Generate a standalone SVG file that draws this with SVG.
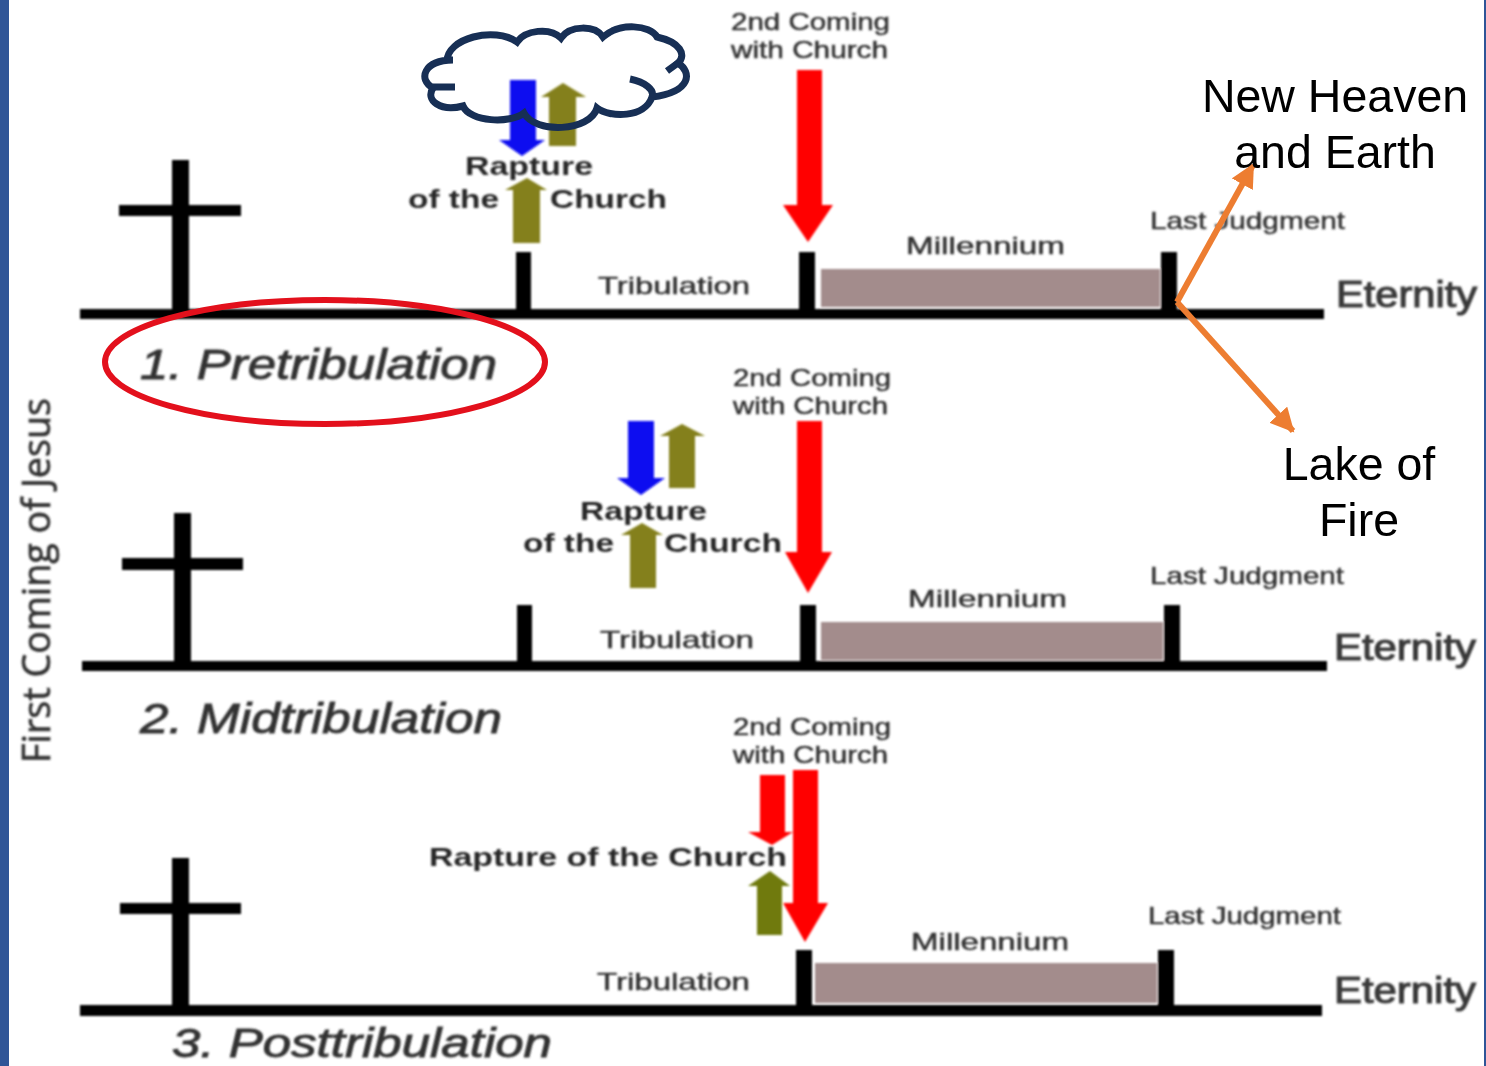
<svg xmlns="http://www.w3.org/2000/svg" width="1486" height="1066" viewBox="0 0 1486 1066">
<style>
.k{fill:#000}
.m{fill:#a38c8c}
.r{fill:#f00}
.b{fill:#0a0af0}
.o{fill:#84801a}
.t{font-family:"Liberation Sans",Arial,sans-serif;fill:#333}
.s{font-size:24px;font-weight:normal;stroke:#333;stroke-width:.5}
.h{font-size:26px;font-weight:bold;fill:#262626}
.e{font-size:36px;font-weight:normal;fill:#3a3a3a;stroke:#3a3a3a;stroke-width:1.1}
.p{font-size:42px;font-style:italic;stroke:#333;stroke-width:.9}
.n{font-family:"Liberation Sans",Arial,sans-serif;font-size:46.5px;fill:#000;text-anchor:middle}
.c{fill:none;stroke:#ed7d31;stroke-width:6}
</style>
<defs>
<filter id="soft" x="-5%" y="-5%" width="110%" height="110%"><feGaussianBlur stdDeviation="0.9"/></filter>
<marker id="ah" markerUnits="userSpaceOnUse" markerWidth="30" markerHeight="30" refX="22" refY="12" orient="auto"><path d="M0 0L24 12L0 24Z" fill="#ed7d31"/></marker>
</defs>
<rect width="1486" height="1066" fill="#fff"/>
<rect id="left-bar" x="0" y="0" width="9" height="1066" fill="#2f5597"/>
<rect id="right-bar" x="1484" y="0" width="2" height="1066" fill="#2f5597"/>

<g filter="url(#soft)">
<g id="side-label"><text class="t" transform="translate(50 763) rotate(-90)" font-size="38" textLength="365" lengthAdjust="spacingAndGlyphs" stroke="#333" stroke-width=".7" style="font-family:'Open Sans',sans-serif">First Coming of Jesus</text></g>

<g id="panel-1">
<path class="k" d="M172 160h17v45h52v11h-52v94h-17v-94h-53v-11h53z"/>
<rect class="k" x="80" y="309" width="1244" height="10"/>
<rect class="k" x="516" y="252" width="15" height="60"/>
<rect class="k" x="799" y="252" width="16" height="60"/>
<rect class="k" x="1161" y="252" width="16" height="60"/>
<rect class="m" x="821" y="269" width="339" height="38"/>
<polygon class="r" points="797,70 822,70 822,205 833,205 808,242 783,205 797,205"/>
<polygon class="b" points="510,80 536,80 536,140 545,140 522,156 499,140 510,140"/>
<polygon class="o" points="549,146 576,146 576,97 586,97 563,83 541,97 549,97"/>
<polygon class="o" points="513,243 540,243 540,190 547,190 527,178 505,190 513,190"/>
<text class="t s" x="731" y="30" textLength="159" lengthAdjust="spacingAndGlyphs">2nd Coming</text>
<text class="t s" x="731" y="58" textLength="157" lengthAdjust="spacingAndGlyphs">with Church</text>
<text class="t h" x="465" y="175" textLength="128" lengthAdjust="spacingAndGlyphs">Rapture</text>
<text class="t h" x="408" y="208" textLength="91" lengthAdjust="spacingAndGlyphs">of the</text>
<text class="t h" x="550" y="208" textLength="117" lengthAdjust="spacingAndGlyphs">Church</text>
<text class="t s" x="598" y="294" textLength="152" lengthAdjust="spacingAndGlyphs">Tribulation</text>
<text class="t s" x="906" y="254" textLength="159" lengthAdjust="spacingAndGlyphs">Millennium</text>
<text class="t s" x="1150" y="229" textLength="195" lengthAdjust="spacingAndGlyphs">Last Judgment</text>
<text class="t e" x="1336" y="307" textLength="141" lengthAdjust="spacingAndGlyphs">Eternity</text>
<text class="t p" x="140" y="379" textLength="357" lengthAdjust="spacingAndGlyphs">1. Pretribulation</text>
</g>

<g id="panel-2">
<path class="k" d="M174 513h17v45h52v12h-52v93h-17v-93h-52v-12h52z"/>
<rect class="k" x="82" y="661" width="1245" height="10"/>
<rect class="k" x="517" y="605" width="15" height="60"/>
<rect class="k" x="800" y="605" width="16" height="60"/>
<rect class="k" x="1164" y="605" width="16" height="60"/>
<rect class="m" x="821" y="622" width="342" height="38"/>
<polygon class="r" points="797,421 822,421 822,552 832,552 808,593 785,552 797,552"/>
<polygon class="b" points="628,421 654,421 654,478 665,478 641,495 617,478 628,478"/>
<polygon class="o" points="669,488 695,488 695,436 705,436 682,424 660,436 669,436"/>
<polygon class="o" points="630,588 656,588 656,535 663,535 642,523 621,535 630,535"/>
<text class="t s" x="733" y="386" textLength="158" lengthAdjust="spacingAndGlyphs">2nd Coming</text>
<text class="t s" x="733" y="414" textLength="155" lengthAdjust="spacingAndGlyphs">with Church</text>
<text class="t h" x="580" y="520" textLength="127" lengthAdjust="spacingAndGlyphs">Rapture</text>
<text class="t h" x="523" y="552" textLength="91" lengthAdjust="spacingAndGlyphs">of the</text>
<text class="t h" x="664" y="552" textLength="118" lengthAdjust="spacingAndGlyphs">Church</text>
<text class="t s" x="600" y="648" textLength="154" lengthAdjust="spacingAndGlyphs">Tribulation</text>
<text class="t s" x="908" y="607" textLength="159" lengthAdjust="spacingAndGlyphs">Millennium</text>
<text class="t s" x="1150" y="584" textLength="194" lengthAdjust="spacingAndGlyphs">Last Judgment</text>
<text class="t e" x="1334" y="660" textLength="142" lengthAdjust="spacingAndGlyphs">Eternity</text>
<text class="t p" x="140" y="733" textLength="362" lengthAdjust="spacingAndGlyphs">2. Midtribulation</text>
</g>

<g id="panel-3">
<path class="k" d="M172 858h17v45h52v11h-52v94h-17v-94h-52v-11h52z"/>
<rect class="k" x="80" y="1005" width="1242" height="11"/>
<rect class="k" x="796" y="950" width="16" height="60"/>
<rect class="k" x="1158" y="950" width="16" height="60"/>
<rect class="m" x="815" y="963" width="342" height="40"/>
<polygon points="757,935 782,935 782,886 790,886 770,871 748,886 757,886" fill="#6f7a10"/>
<polygon class="r" points="760,775 785,775 785,832 793,832 772,845 748,832 760,832"/>
<polygon class="r" points="793,770 818,770 818,903 828,903 805,942 783,903 793,903"/>
<text class="t s" x="733" y="735" textLength="158" lengthAdjust="spacingAndGlyphs">2nd Coming</text>
<text class="t s" x="733" y="763" textLength="155" lengthAdjust="spacingAndGlyphs">with Church</text>
<text class="t h" x="429" y="866" textLength="358" lengthAdjust="spacingAndGlyphs">Rapture of the Church</text>
<text class="t s" x="597" y="990" textLength="153" lengthAdjust="spacingAndGlyphs">Tribulation</text>
<text class="t s" x="911" y="950" textLength="158" lengthAdjust="spacingAndGlyphs">Millennium</text>
<text class="t s" x="1148" y="924" textLength="193" lengthAdjust="spacingAndGlyphs">Last Judgment</text>
<text class="t e" x="1334" y="1003" textLength="142" lengthAdjust="spacingAndGlyphs">Eternity</text>
<text class="t p" x="172" y="1057" style="font-size:40px" textLength="380" lengthAdjust="spacingAndGlyphs">3. Posttribulation</text>
</g>
</g>

<g id="cloud" fill="none" stroke="#172f55" stroke-width="7">
<path d="M447 62C446 38 495 26 517 42C525 30 550 27 561 38C570 25 595 25 603 37C620 22 650 25 657 37C680 42 687 55 678 63C692 72 692 92 652 97C645 118 610 118 597 108C590 132 535 134 524 113C510 124 470 122 463 106C440 112 425 100 433 88C418 80 423 60 453 60"/>
<path d="M678 63L667 71M630 79C645 82 655 90 652 97M433 87L455 87"/>
</g>
<ellipse id="highlight" cx="325" cy="362" rx="220" ry="62" fill="none" stroke="#e3101c" stroke-width="6"/>
<g id="connectors">
<path class="c" d="M1177 302L1253 165" marker-end="url(#ah)"/>
<path class="c" d="M1177 302L1293 431" marker-end="url(#ah)"/>
</g>
<g id="new-heaven"><text class="n" x="1335" y="112">New Heaven</text><text class="n" x="1335" y="168">and Earth</text></g>
<g id="lake-of-fire"><text class="n" x="1359" y="480">Lake of</text><text class="n" x="1359" y="536">Fire</text></g>
</svg>
